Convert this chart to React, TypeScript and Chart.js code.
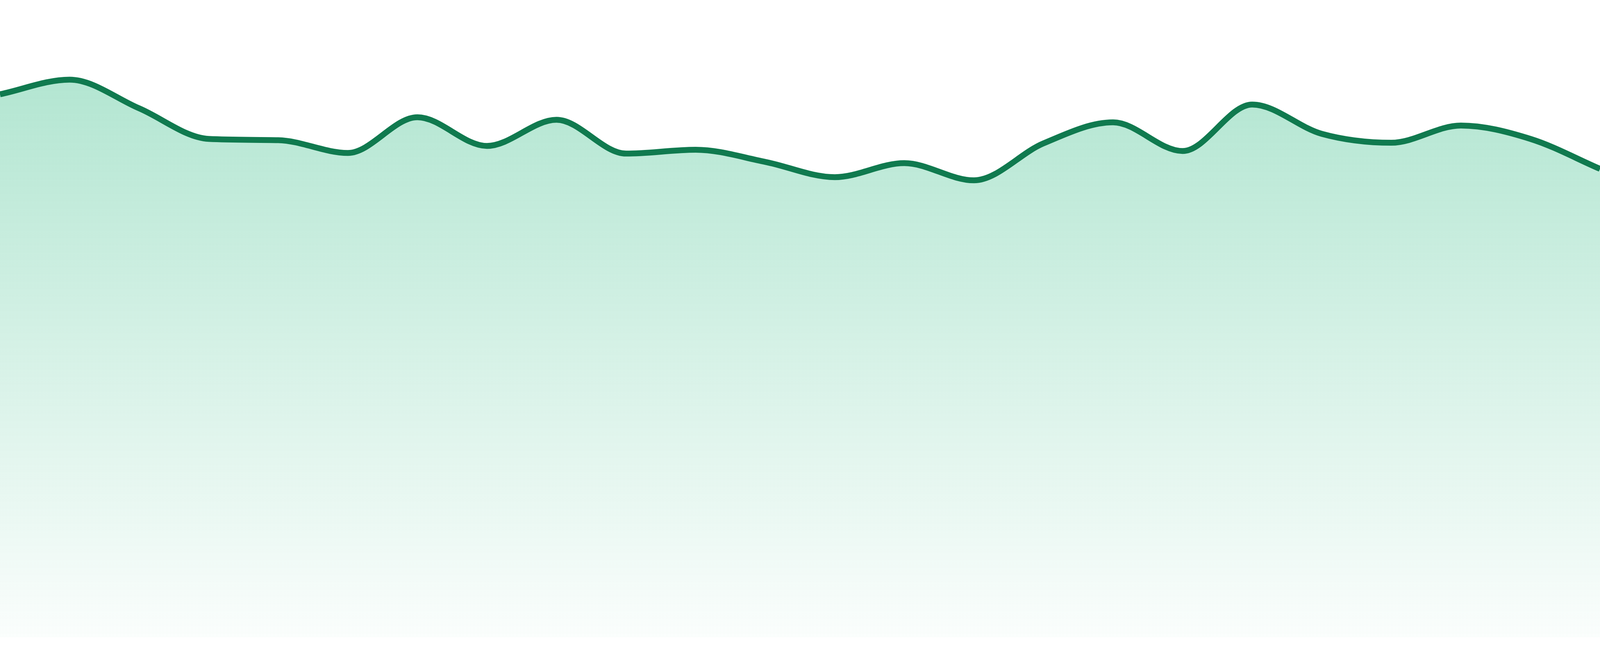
import React, { useEffect, useRef } from 'react';
import { Chart, registerables } from 'chart.js';

Chart.register(...registerables);

// --- Datos (24 puntos, sin ejes visibles) ---
const labels = [
  'P1', 'P2', 'P3', 'P4', 'P5', 'P6', 'P7', 'P8', 'P9', 'P10', 'P11', 'P12',
  'P13', 'P14', 'P15', 'P16', 'P17', 'P18', 'P19', 'P20', 'P21', 'P22', 'P23', 'P24',
];

const values = [
  85.2, 87.5, 83.0, 78.2, 78.0, 76.0, 81.6, 77.1, 81.2, 75.9, 76.5, 74.6,
  72.2, 74.4, 71.7, 77.5, 80.8, 76.3, 83.6, 79.0, 77.6, 80.3, 78.2, 73.5,
];

const yMin = 0;
const yMax = 100;

const lineColor = '#107a4f';

export default function App() {
  const canvasRef = useRef<HTMLCanvasElement>(null);

  useEffect(() => {
    const ctx = canvasRef.current?.getContext('2d');
    if (!ctx) return;

    const chart = new Chart(ctx, {
      type: 'line',
      data: {
        labels,
        datasets: [{
          data: values,
          borderColor: lineColor,
          borderWidth: 15,
          pointRadius: 0,
          pointHoverRadius: 0,
          cubicInterpolationMode: 'monotone',
          fill: 'start',
          // degradado vertical, de verde suave a casi blanco
          backgroundColor: (context: any) => {
            const area = context.chart.chartArea;
            if (!area) return 'rgba(16,176,112,0.2)';
            const g = context.chart.ctx.createLinearGradient(0, area.top, 0, area.bottom);
            g.addColorStop(0, 'rgba(16,176,112,0.36)');
            g.addColorStop(1, 'rgba(16,176,112,0.02)');
            return g;
          },
        }],
      },
      options: {
        responsive: true,
        maintainAspectRatio: false,
        animation: false,
        layout: { padding: { top: 0, left: 0, right: 0, bottom: 48 } },
        plugins: {
          legend: { display: false },
          tooltip: { enabled: false },
        },
        scales: {
          x: { display: false, offset: false },
          y: { display: false, min: yMin, max: yMax },
        },
      },
    });

    return () => {
      chart.destroy();
    };
  }, []);

  // ocupa toda la ventana (el body trae margen de 8px por defecto)
  return (
    <div style={{ position: 'fixed', left: 0, top: 0, width: '100vw', height: '100vh', background: '#fff' }}>
      <canvas ref={canvasRef}></canvas>
    </div>
  );
}
